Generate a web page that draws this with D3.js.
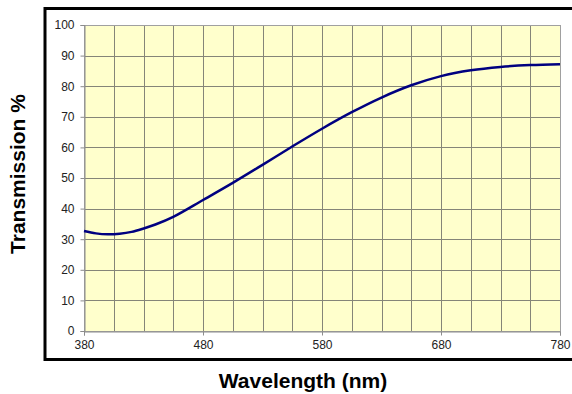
<!DOCTYPE html>
<html><head><meta charset="utf-8">
<script src="https://cdn.jsdelivr.net/npm/d3@7"></script>
<style>body{margin:0;background:#fff}svg{display:block}</style>
</head><body>
<svg id="c" width="572" height="394"></svg>
<script>
const wavelengths = [380,390,400,410,420,430,440,455,480,505,530,555,580,605,630,655,680,705,730,755,780];
const transmission = [32.7,31.9,31.6,31.8,32.4,33.5,34.8,37.3,42.8,48.4,54.3,60.3,66.1,71.5,76.3,80.3,83.3,85.2,86.3,86.9,87.2];
const xTickLabels = [380,480,580,680,780];
const yTickLabels = [0,10,20,30,40,50,60,70,80,90,100];
const xGrid = d3.range(380, 781, 25);

const svg = d3.select("#c");
const L = 84, R = 560, T = 25, B = 331;
const x = d3.scaleLinear().domain([380,780]).range([L,R]);
const y = d3.scaleLinear().domain([0,100]).range([B,T]);
const px = v => Math.round(v) + 0.5;

// outer frame
svg.append("rect").attr("x",45).attr("y",8.5).attr("width",560).attr("height",351)
  .attr("fill","#fff").attr("stroke","#000").attr("stroke-width",3);

// plot background
svg.append("rect").attr("x",L).attr("y",T).attr("width",R-L).attr("height",B-T)
  .attr("fill","#ffffcc");

// grid
const g = svg.append("g").attr("stroke","#858578").attr("stroke-width",1);
g.selectAll(".vx").data(xGrid).enter().append("line")
  .attr("x1",d=>px(x(d))).attr("x2",d=>px(x(d))).attr("y1",T).attr("y2",B);
g.selectAll(".hy").data(yTickLabels).enter().append("line")
  .attr("y1",d=>px(y(d))).attr("y2",d=>px(y(d))).attr("x1",L).attr("x2",R);

// plot border
svg.append("rect").attr("x",px(L)).attr("y",px(T)).attr("width",Math.round(R-L)).attr("height",Math.round(B-T))
  .attr("fill","none").attr("stroke","#a0a0a0").attr("stroke-width",1);

// axes
const xAxis = d3.axisBottom(x).tickValues(xTickLabels).tickSize(4).tickPadding(5).tickFormat(d3.format("d"));
const yAxis = d3.axisLeft(y).tickValues(yTickLabels).tickSize(4).tickPadding(6).tickFormat(d3.format("d"));
const gx = svg.append("g").attr("transform",`translate(0,${px(B)})`).call(xAxis);
const gy = svg.append("g").attr("transform",`translate(${px(L)},0)`).call(yAxis);
[gx,gy].forEach(a=>{
  a.select(".domain").attr("stroke","#8c8c8c");
  a.selectAll(".tick line").attr("stroke","#8c8c8c");
  a.selectAll("text").attr("fill","#222").style("font-family","Arial, 'Liberation Sans', sans-serif").style("font-size","12px");
});

// curve
const line = d3.line().x((d,i)=>x(wavelengths[i])).y(d=>y(d)).curve(d3.curveCatmullRom.alpha(0.5));
svg.append("path").datum(transmission).attr("d",line)
  .attr("fill","none").attr("stroke","#000080").attr("stroke-width",2.5);

// titles
svg.append("text").attr("x",303).attr("y",388).attr("text-anchor","middle")
  .style("font-family","Arial, 'Liberation Sans', sans-serif").style("font-weight","bold").style("font-size","21px")
  .text("Wavelength (nm)");
svg.append("text").attr("transform","translate(25,174) rotate(-90)").attr("text-anchor","middle")
  .style("font-family","Arial, 'Liberation Sans', sans-serif").style("font-weight","bold").style("font-size","21px")
  .text("Transmission %");
</script>
</body></html>
